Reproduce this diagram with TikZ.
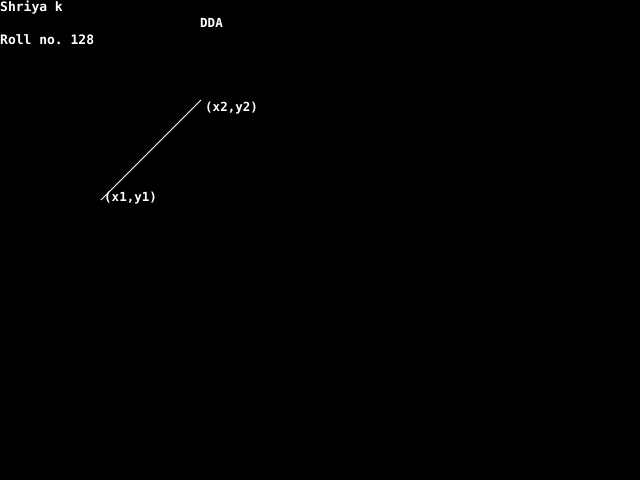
\documentclass[tikz,border=0pt]{standalone}
\usepackage{fontspec}
\setmonofont{DejaVu Sans Mono}
\usetikzlibrary{positioning}

\begin{document}
\begin{tikzpicture}
    \tikzset{x={(1pt, 0pt)}, y={(0pt, -1pt)}}
    \tikzset{bigtext/.style={text=white, inner sep=0pt, anchor=base west,
                 font=\ttfamily\bfseries\fontsize{13}{13}\selectfont},
             smalltext/.style={text=white, inner sep=0pt, anchor=base west,
                 font=\ttfamily\bfseries\fontsize{12.5}{12.5}\selectfont}}
    \fill[black] (0, 0) rectangle (640, 480);
    \node[bigtext] (name) at (0, 11.5) {Shriya k};
    \node[bigtext] (roll) at (0, 44) {Roll no. 128};
    \node[smalltext] (title) at (200, 27) {DDA};
    \coordinate (p1) at (101, 200);
    \coordinate (p2) at (201, 100);
    \draw[white, line width=1pt] (p1) -- (p2);
    \node[smalltext] (lab2) at (205, 111) {(x2,y2)};
    \node[smalltext] (lab1) at (104, 201) {(x1,y1)};
\end{tikzpicture}
\end{document}
